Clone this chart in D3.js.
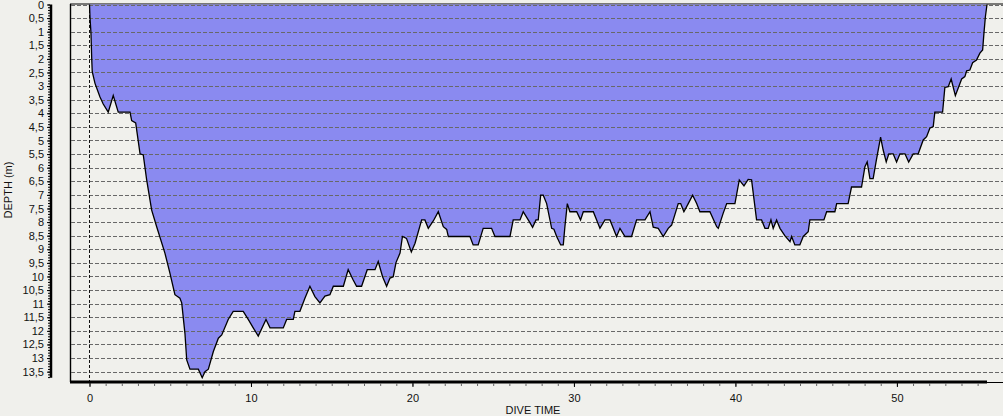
<!DOCTYPE html>
<html>
<head>
<meta charset="utf-8">
<script src="https://cdn.jsdelivr.net/npm/d3@7"></script>
<style>
  body { margin: 0; background: #f0f0ec; }
  svg { display: block; font-family: "Liberation Sans", Arial, sans-serif; }
</style>
</head>
<body>
<svg width="1003" height="416"></svg>
<script>
// dive profile: time in minutes, depth in metres
var diveTime = [0, 0.03, 0.09, 0.14, 0.17, 0.34, 0.65, 0.85, 1.16, 1.47, 1.78, 2.51, 2.61, 2.86, 3.13, 3.33, 3.54, 3.85, 4.16, 4.67,
    4.98, 5.29, 5.60, 5.71, 5.91, 6.02, 6.22, 6.74, 6.98, 7.15, 7.36, 7.67, 7.98, 8.19, 8.59, 8.90, 9.52, 9.83, 10.14, 10.45,
    10.93, 11.18, 12.00, 12.21, 12.62, 12.72, 13.03, 13.34, 13.65, 13.96, 14.27, 14.58, 14.89, 15.10, 15.72, 16.02, 16.33, 16.54, 16.85, 17.20,
    17.68, 17.88, 18.15, 18.40, 18.61, 18.81, 18.98, 19.23, 19.38, 19.63, 19.93, 20.16, 20.57, 20.77, 20.98, 21.29, 21.60, 21.91, 22.12, 22.22,
    23.56, 23.76, 24.07, 24.38, 24.90, 25.11, 26.04, 26.24, 26.66, 26.86, 27.17, 27.44, 27.65, 27.79, 27.94, 28.10, 28.31, 28.62, 28.76, 28.93,
    29.18, 29.34, 29.44, 29.59, 29.75, 30.17, 30.41, 30.58, 31.20, 31.61, 31.92, 32.23, 32.64, 32.85, 33.16, 33.57, 33.88, 34.40, 34.71, 34.91,
    35.22, 35.53, 35.84, 36.05, 36.46, 36.61, 36.81, 37.08, 37.35, 37.60, 37.80, 38.42, 38.84, 38.94, 39.24, 39.46, 39.97, 40.24, 40.53, 40.79,
    41.00, 41.31, 41.62, 41.83, 42.03, 42.20, 42.34, 42.55, 42.76, 43.07, 43.38, 43.48, 43.68, 43.99, 44.20, 44.51, 44.61, 45.48, 45.65, 46.16,
    46.27, 46.98, 47.19, 47.81, 48.02, 48.16, 48.33, 48.53, 48.72, 48.99, 49.15, 49.34, 49.50, 49.77, 49.98, 50.19, 50.50, 50.73, 51.01, 51.32,
    51.63, 51.84, 52.04, 52.25, 52.35, 52.83, 52.97, 53.18, 53.36, 53.62, 54.01, 54.21, 54.32, 54.52, 54.69, 54.93, 55.14, 55.31, 55.39, 55.48,
    55.58];
var diveDepth = [0, 0.46, 1.05, 2.04, 2.47, 2.90, 3.40, 3.66, 3.96, 3.35, 3.96, 3.96, 4.27, 4.35, 5.49, 5.53, 6.45, 7.56, 8.17, 9.14,
    9.88, 10.67, 10.80, 10.97, 12.09, 13.07, 13.41, 13.41, 13.72, 13.50, 13.41, 12.76, 12.27, 12.15, 11.58, 11.28, 11.28, 11.58, 11.89, 12.19,
    11.58, 11.89, 11.89, 11.58, 11.58, 11.28, 11.28, 10.80, 10.36, 10.74, 10.97, 10.72, 10.67, 10.36, 10.36, 9.75, 10.13, 10.36, 10.36, 9.75,
    9.75, 9.45, 10.01, 10.36, 10.06, 10.01, 9.49, 9.14, 8.53, 8.60, 9.10, 8.78, 7.92, 7.92, 8.23, 7.96, 7.62, 8.17, 8.27, 8.53,
    8.53, 8.84, 8.84, 8.23, 8.23, 8.53, 8.53, 7.92, 7.92, 7.62, 7.92, 8.19, 7.92, 7.92, 7.01, 7.01, 7.32, 8.23, 8.26, 8.53,
    8.84, 8.84, 8.17, 7.32, 7.62, 7.62, 7.92, 7.62, 7.62, 8.23, 7.92, 7.92, 8.53, 8.23, 8.53, 8.53, 7.92, 7.92, 7.62, 8.19,
    8.23, 8.53, 8.23, 8.11, 7.32, 7.32, 7.62, 7.32, 7.01, 7.32, 7.62, 7.62, 8.17, 8.23, 7.68, 7.32, 7.32, 6.45, 6.67, 6.43,
    6.45, 7.92, 7.92, 8.23, 8.23, 7.92, 8.23, 7.92, 8.23, 8.51, 8.72, 8.53, 8.84, 8.84, 8.53, 8.35, 7.92, 7.92, 7.62, 7.62,
    7.32, 7.32, 6.71, 6.71, 5.96, 5.79, 6.40, 6.40, 5.75, 4.88, 5.35, 5.79, 5.49, 5.49, 5.79, 5.49, 5.49, 5.79, 5.49, 5.49,
    4.98, 4.86, 4.55, 4.49, 3.96, 3.96, 3.05, 3.02, 2.74, 3.35, 2.74, 2.65, 2.44, 2.41, 2.14, 2.04, 1.79, 1.67, 1.06, 0.45,
    0];

var xTicks = [0, 10, 20, 30, 40, 50];
var yTicks = [0, 0.5, 1, 1.5, 2, 2.5, 3, 3.5, 4, 4.5, 5, 5.5, 6, 6.5, 7, 7.5, 8, 8.5, 9, 9.5, 10, 10.5, 11, 11.5, 12, 12.5, 13, 13.5];

var profile = diveTime.map(function(t, i) { return { t: t, d: diveDepth[i] }; });
var maxTime = d3.max(diveTime), maxDepth = d3.max(diveDepth);

var svg = d3.select("svg"),
    W = +svg.attr("width"),
    plotLeft = 70, plotTop = 4.5, plotBottom = 382;

var x = d3.scaleLinear().domain([0, maxTime]).range([89.5, 987]);
var y = d3.scaleLinear().domain([0, 13.88]).range([plotTop, plotBottom]);

// frame
svg.append("line").attr("x1", plotLeft).attr("x2", W).attr("y1", 4).attr("y2", 4)
    .attr("stroke", "#000").attr("stroke-width", 1.2);
svg.append("line").attr("x1", plotLeft + 0.5).attr("x2", plotLeft + 0.5).attr("y1", 4).attr("y2", plotBottom)
    .attr("stroke", "#000").attr("stroke-width", 1.4);

// filled profile
var area = d3.area()
    .x(function(d) { return x(d.t); })
    .y0(y(0))
    .y1(function(d) { return y(d.d); });
svg.append("path").datum(profile)
    .attr("d", area)
    .attr("fill", "#8a8af0");

// dashed depth grid
svg.append("g").selectAll("line").data(yTicks).enter().append("line")
    .attr("x1", plotLeft + 1).attr("x2", W)
    .attr("y1", function(d) { return Math.round(y(d)) + 0.5; })
    .attr("y2", function(d) { return Math.round(y(d)) + 0.5; })
    .attr("stroke", "#686868").attr("stroke-width", 1).attr("stroke-dasharray", "4,2");

// start of dive marker
svg.append("line").attr("x1", x(0)).attr("x2", x(0)).attr("y1", 5).attr("y2", plotBottom)
    .attr("stroke", "#111").attr("stroke-dasharray", "3,2");

// profile outline
var line = d3.line()
    .x(function(d) { return x(d.t); })
    .y(function(d) { return y(d.d); });
svg.append("path").datum(profile)
    .attr("d", line)
    .attr("fill", "none")
    .attr("stroke", "#000")
    .attr("stroke-width", 1.3);

// x axis
svg.append("line").attr("x1", plotLeft).attr("x2", W).attr("y1", plotBottom + 0.5).attr("y2", plotBottom + 0.5)
    .attr("stroke", "#000").attr("stroke-width", 1);
svg.append("line").attr("x1", plotLeft).attr("x2", x(maxTime)).attr("y1", plotBottom).attr("y2", plotBottom)
    .attr("stroke", "#000").attr("stroke-width", 3);
svg.append("g")
    .attr("transform", "translate(0," + (plotBottom + 1) + ")")
    .call(d3.axisBottom(x).tickValues(d3.range(0, 56)).tickSize(3).tickFormat(""))
    .call(function(g) { g.select(".domain").remove(); g.selectAll("line").attr("stroke", "#666"); });
svg.append("g")
    .attr("transform", "translate(0," + (plotBottom + 1) + ")")
    .call(d3.axisBottom(x).tickValues(xTicks).tickSize(4).tickPadding(7))
    .call(function(g) {
        g.select(".domain").remove();
        g.selectAll("text").attr("font-size", 11).attr("font-family", "Liberation Sans, Arial, sans-serif").attr("fill", "#111");
    });

// y axis
var yAxisX = 51;
svg.append("line").attr("x1", yAxisX).attr("x2", yAxisX).attr("y1", y(0)).attr("y2", y(maxDepth))
    .attr("stroke", "#000").attr("stroke-width", 2.5);
svg.append("g")
    .attr("transform", "translate(" + (yAxisX - 1) + ",0)")
    .call(d3.axisLeft(y).tickValues(d3.range(0, maxDepth, 0.1)).tickSize(2).tickFormat(""))
    .call(function(g) { g.select(".domain").remove(); g.selectAll("line").attr("stroke", "#000"); });
svg.append("g")
    .attr("transform", "translate(" + (yAxisX - 1) + ",0)")
    .call(d3.axisLeft(y).tickValues(yTicks).tickSize(3).tickPadding(3)
        .tickFormat(function(d) { return String(d).replace(".", ","); }))
    .call(function(g) {
        g.select(".domain").remove();
        g.selectAll("text").attr("font-size", 11).attr("font-family", "Liberation Sans, Arial, sans-serif").attr("fill", "#111");
    });

// axis titles
svg.append("text")
    .attr("transform", "translate(12,190) rotate(-90)")
    .attr("text-anchor", "middle")
    .attr("font-size", 11)
    .attr("fill", "#111")
    .text("DEPTH (m)");
svg.append("text")
    .attr("x", 533).attr("y", 414)
    .attr("text-anchor", "middle")
    .attr("font-size", 11)
    .attr("fill", "#111")
    .text("DIVE TIME");
</script>
</body>
</html>
